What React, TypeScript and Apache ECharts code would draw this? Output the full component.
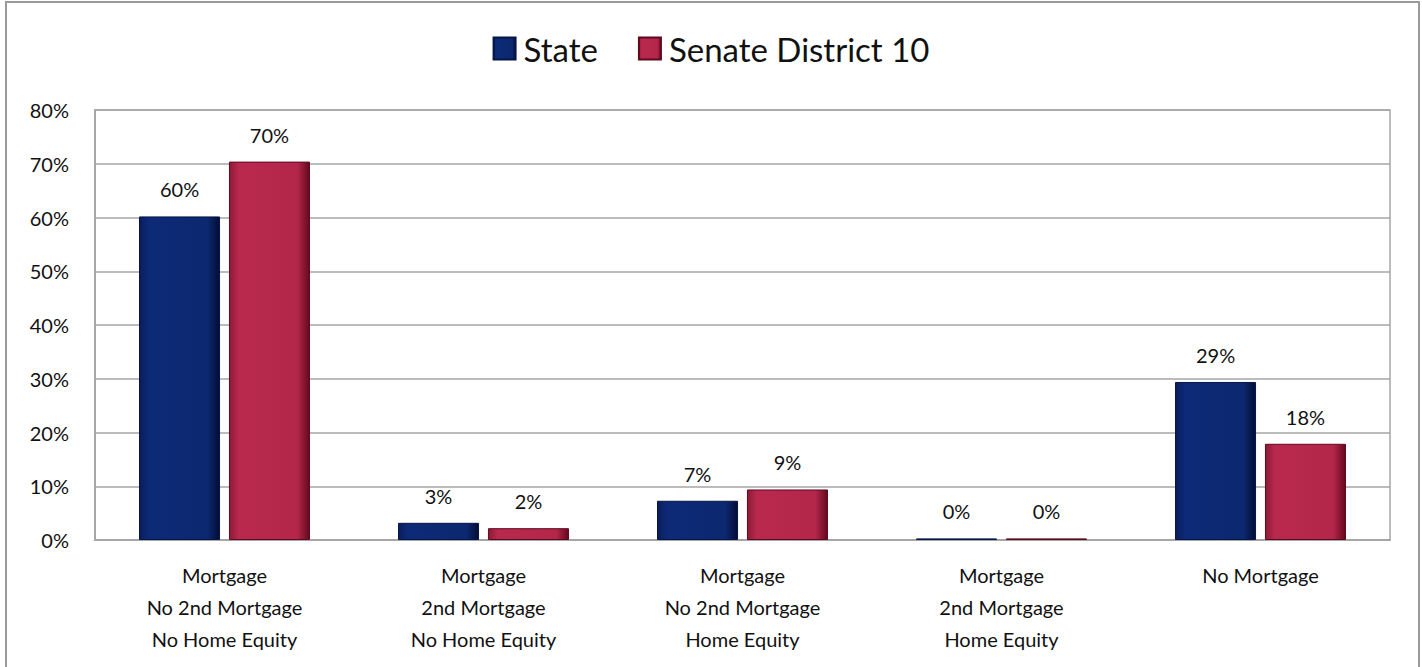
import React, { useEffect, useRef } from "react";
import * as echarts from "echarts";

const categories = [
  "Mortgage\nNo 2nd Mortgage\nNo Home Equity",
  "Mortgage\n2nd Mortgage\nNo Home Equity",
  "Mortgage\nNo 2nd Mortgage\nHome Equity",
  "Mortgage\n2nd Mortgage\nHome Equity",
  "No Mortgage",
];
const stateValues = [60.2, 3.2, 7.3, 0.3, 29.4];
const districtValues = [70.4, 2.2, 9.4, 0.3, 17.9];
const seriesNames = ["State", "Senate District 10"];

const FONT = "Lato, 'Noto Sans', sans-serif";

const hGrad = (stops: [number, string][]) =>
  new echarts.graphic.LinearGradient(
    0,
    0,
    1,
    0,
    stops.map(([offset, color]) => ({ offset, color }))
  );

export default function App() {
  const ref = useRef<HTMLDivElement>(null);
  useEffect(() => {
    if (!ref.current) return;
    const chart = echarts.init(ref.current, null, { renderer: "svg" });
    const navy = hGrad([
      [0, "#0a1d5c"],
      [0.12, "#0d2a78"],
      [0.85, "#0c2870"],
      [1, "#030d35"],
    ]);
    const red = hGrad([
      [0, "#8e1a37"],
      [0.12, "#b9294e"],
      [0.85, "#b32649"],
      [1, "#64091f"],
    ]);
    const label = {
      show: true,
      position: "top" as const,
      distance: 17,
      fontFamily: FONT,
      fontSize: 20,
      color: "#111",
      formatter: (p: any) => `${Math.round(p.value)}%`,
    };
    chart.setOption({
      animation: false,
      backgroundColor: "#fff",
      graphic: [
        {
          type: "rect",
          shape: { x: 6, y: 2, width: 1413, height: 700 },
          style: { fill: "none", stroke: "#9a9a9a", lineWidth: 2 },
          silent: true,
        },
      ],
      legend: {
        top: 27,
        left: "center",
        icon: "rect",
        itemWidth: 22,
        itemHeight: 22,
        itemGap: 40,
        textStyle: {
          fontFamily: FONT,
          fontSize: 33,
          color: "#111",
          padding: [0, 0, 0, 3],
        },
        data: [
          { name: seriesNames[0], itemStyle: { color: navy } },
          { name: seriesNames[1], itemStyle: { color: red } },
        ],
      },
      grid: {
        left: 95,
        right: 32,
        top: 110,
        bottom: 127,
        show: true,
        borderColor: "#a6a6a6",
        borderWidth: 1.5,
      },
      xAxis: {
        type: "category",
        data: categories,
        axisLine: { lineStyle: { color: "#a6a6a6", width: 2 } },
        axisTick: { show: false },
        axisLabel: {
          fontFamily: FONT,
          fontSize: 20,
          color: "#111",
          lineHeight: 32,
          margin: 19,
          interval: 0,
        },
      },
      yAxis: {
        type: "value",
        min: 0,
        max: 80,
        interval: 10,
        axisLine: { show: true, lineStyle: { color: "#a6a6a6", width: 2 } },
        axisTick: { show: false },
        splitLine: { lineStyle: { color: "#a6a6a6", width: 1.5 } },
        axisLabel: {
          fontFamily: FONT,
          fontSize: 20,
          color: "#111",
          margin: 26,
          formatter: "{value}%",
        },
      },
      series: [
        {
          name: seriesNames[0],
          type: "bar",
          data: stateValues,
          barGap: "11%",
          barCategoryGap: "34%",
          itemStyle: { color: navy, borderColor: "#061545", borderWidth: 1 },
          label,
        },
        {
          name: seriesNames[1],
          type: "bar",
          data: districtValues,
          itemStyle: { color: red, borderColor: "#5e0a1e", borderWidth: 1 },
          label,
        },
      ],
    });
    return () => chart.dispose();
  }, []);
  return (
    <div
      ref={ref}
      style={{ position: "absolute", left: 0, top: 0, width: 1422, height: 667 }}
    />
  );
}
